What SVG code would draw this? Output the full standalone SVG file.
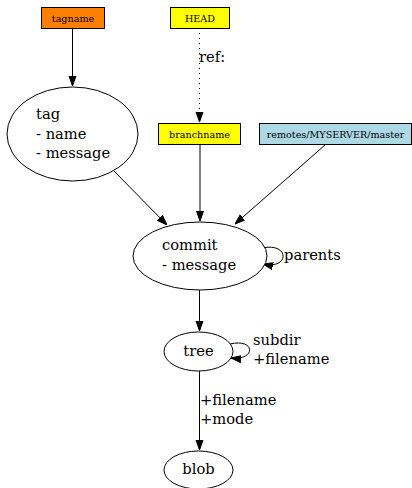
<svg xmlns="http://www.w3.org/2000/svg" width="412" height="488" viewBox="0 0 412 488">
<style>
text{font-family:"DejaVu Serif","Liberation Serif",serif;fill:#000}
.big{font-size:14.7px}
.small{font-size:9.6px}
.box{stroke:#000;stroke-width:1}
.ell{fill:#fff;stroke:#000;stroke-width:1}
.edge{fill:none;stroke:#000;stroke-width:1}
</style>
<defs>
<marker id="ah" viewBox="0 0 10 10" refX="10" refY="5" markerWidth="10" markerHeight="10" markerUnits="userSpaceOnUse" orient="auto">
<path d="M0,1.5 L10,5 L0,8.5 z" fill="#000" stroke="#000" stroke-width="1"/>
</marker>
</defs>
<rect width="412" height="488" fill="#fff"/>
<g id="edges">
<path class="edge" d="M72.5,28 L72.5,86" marker-end="url(#ah)"/>
<path class="edge" d="M199.5,28 L199.5,122" stroke-dasharray="1,4" marker-end="url(#ah)"/>
<text class="big" x="199" y="62">ref:</text>
<path class="edge" d="M114,171 L167,225" marker-end="url(#ah)"/>
<path class="edge" d="M200,145 L200,221" marker-end="url(#ah)"/>
<path class="edge" d="M325,145 L235,224" marker-end="url(#ah)"/>
<path class="edge" d="M262,248 C290,242 290,270 263,264" marker-end="url(#ah)"/>
<text class="big" x="284" y="260">parents</text>
<path class="edge" d="M199.5,290 L199.5,331" marker-end="url(#ah)"/>
<path class="edge" d="M230,344 C256,338 256,361 231,358" marker-end="url(#ah)"/>
<text class="big" x="253" y="345">subdir</text>
<text class="big" x="253" y="364">+filename</text>
<path class="edge" d="M199.5,371 L199.5,450" marker-end="url(#ah)"/>
<text class="big" x="200" y="405">+filename</text>
<text class="big" x="200" y="424">+mode</text>
</g>
<g id="tagname">
<rect class="box" x="41.5" y="7.5" width="63" height="21" fill="#ff8000"/>
<text class="small" x="73" y="21.5" text-anchor="middle">tagname</text>
</g>
<g id="HEAD">
<rect class="box" x="170.5" y="7.5" width="59" height="21" fill="#ffff00"/>
<text class="small" x="200" y="21.5" text-anchor="middle">HEAD</text>
</g>
<g id="tag">
<ellipse class="ell" cx="72.5" cy="134" rx="65.5" ry="47"/>
<text class="big" x="36" y="119">tag</text>
<text class="big" x="36" y="139">- name</text>
<text class="big" x="36" y="158">- message</text>
</g>
<g id="branchname">
<rect class="box" x="158.5" y="123.5" width="82" height="21" fill="#ffff00"/>
<text class="small" x="199.5" y="137.5" text-anchor="middle">branchname</text>
</g>
<g id="remote">
<rect class="box" x="259.5" y="123.5" width="152" height="21" fill="#add8e6"/>
<text class="small" x="335.5" y="137.5" text-anchor="middle">remotes/MYSERVER/master</text>
</g>
<g id="commit">
<ellipse class="ell" cx="200" cy="256" rx="67" ry="34"/>
<text class="big" x="162" y="250">commit</text>
<text class="big" x="162" y="270">- message</text>
</g>
<g id="tree">
<ellipse class="ell" cx="198.5" cy="351.5" rx="34.5" ry="19.5"/>
<text class="big" x="198.5" y="356" text-anchor="middle">tree</text>
</g>
<g id="blob">
<ellipse class="ell" cx="198.5" cy="470" rx="34.5" ry="19"/>
<text class="big" x="198.5" y="474" text-anchor="middle">blob</text>
</g>
</svg>
